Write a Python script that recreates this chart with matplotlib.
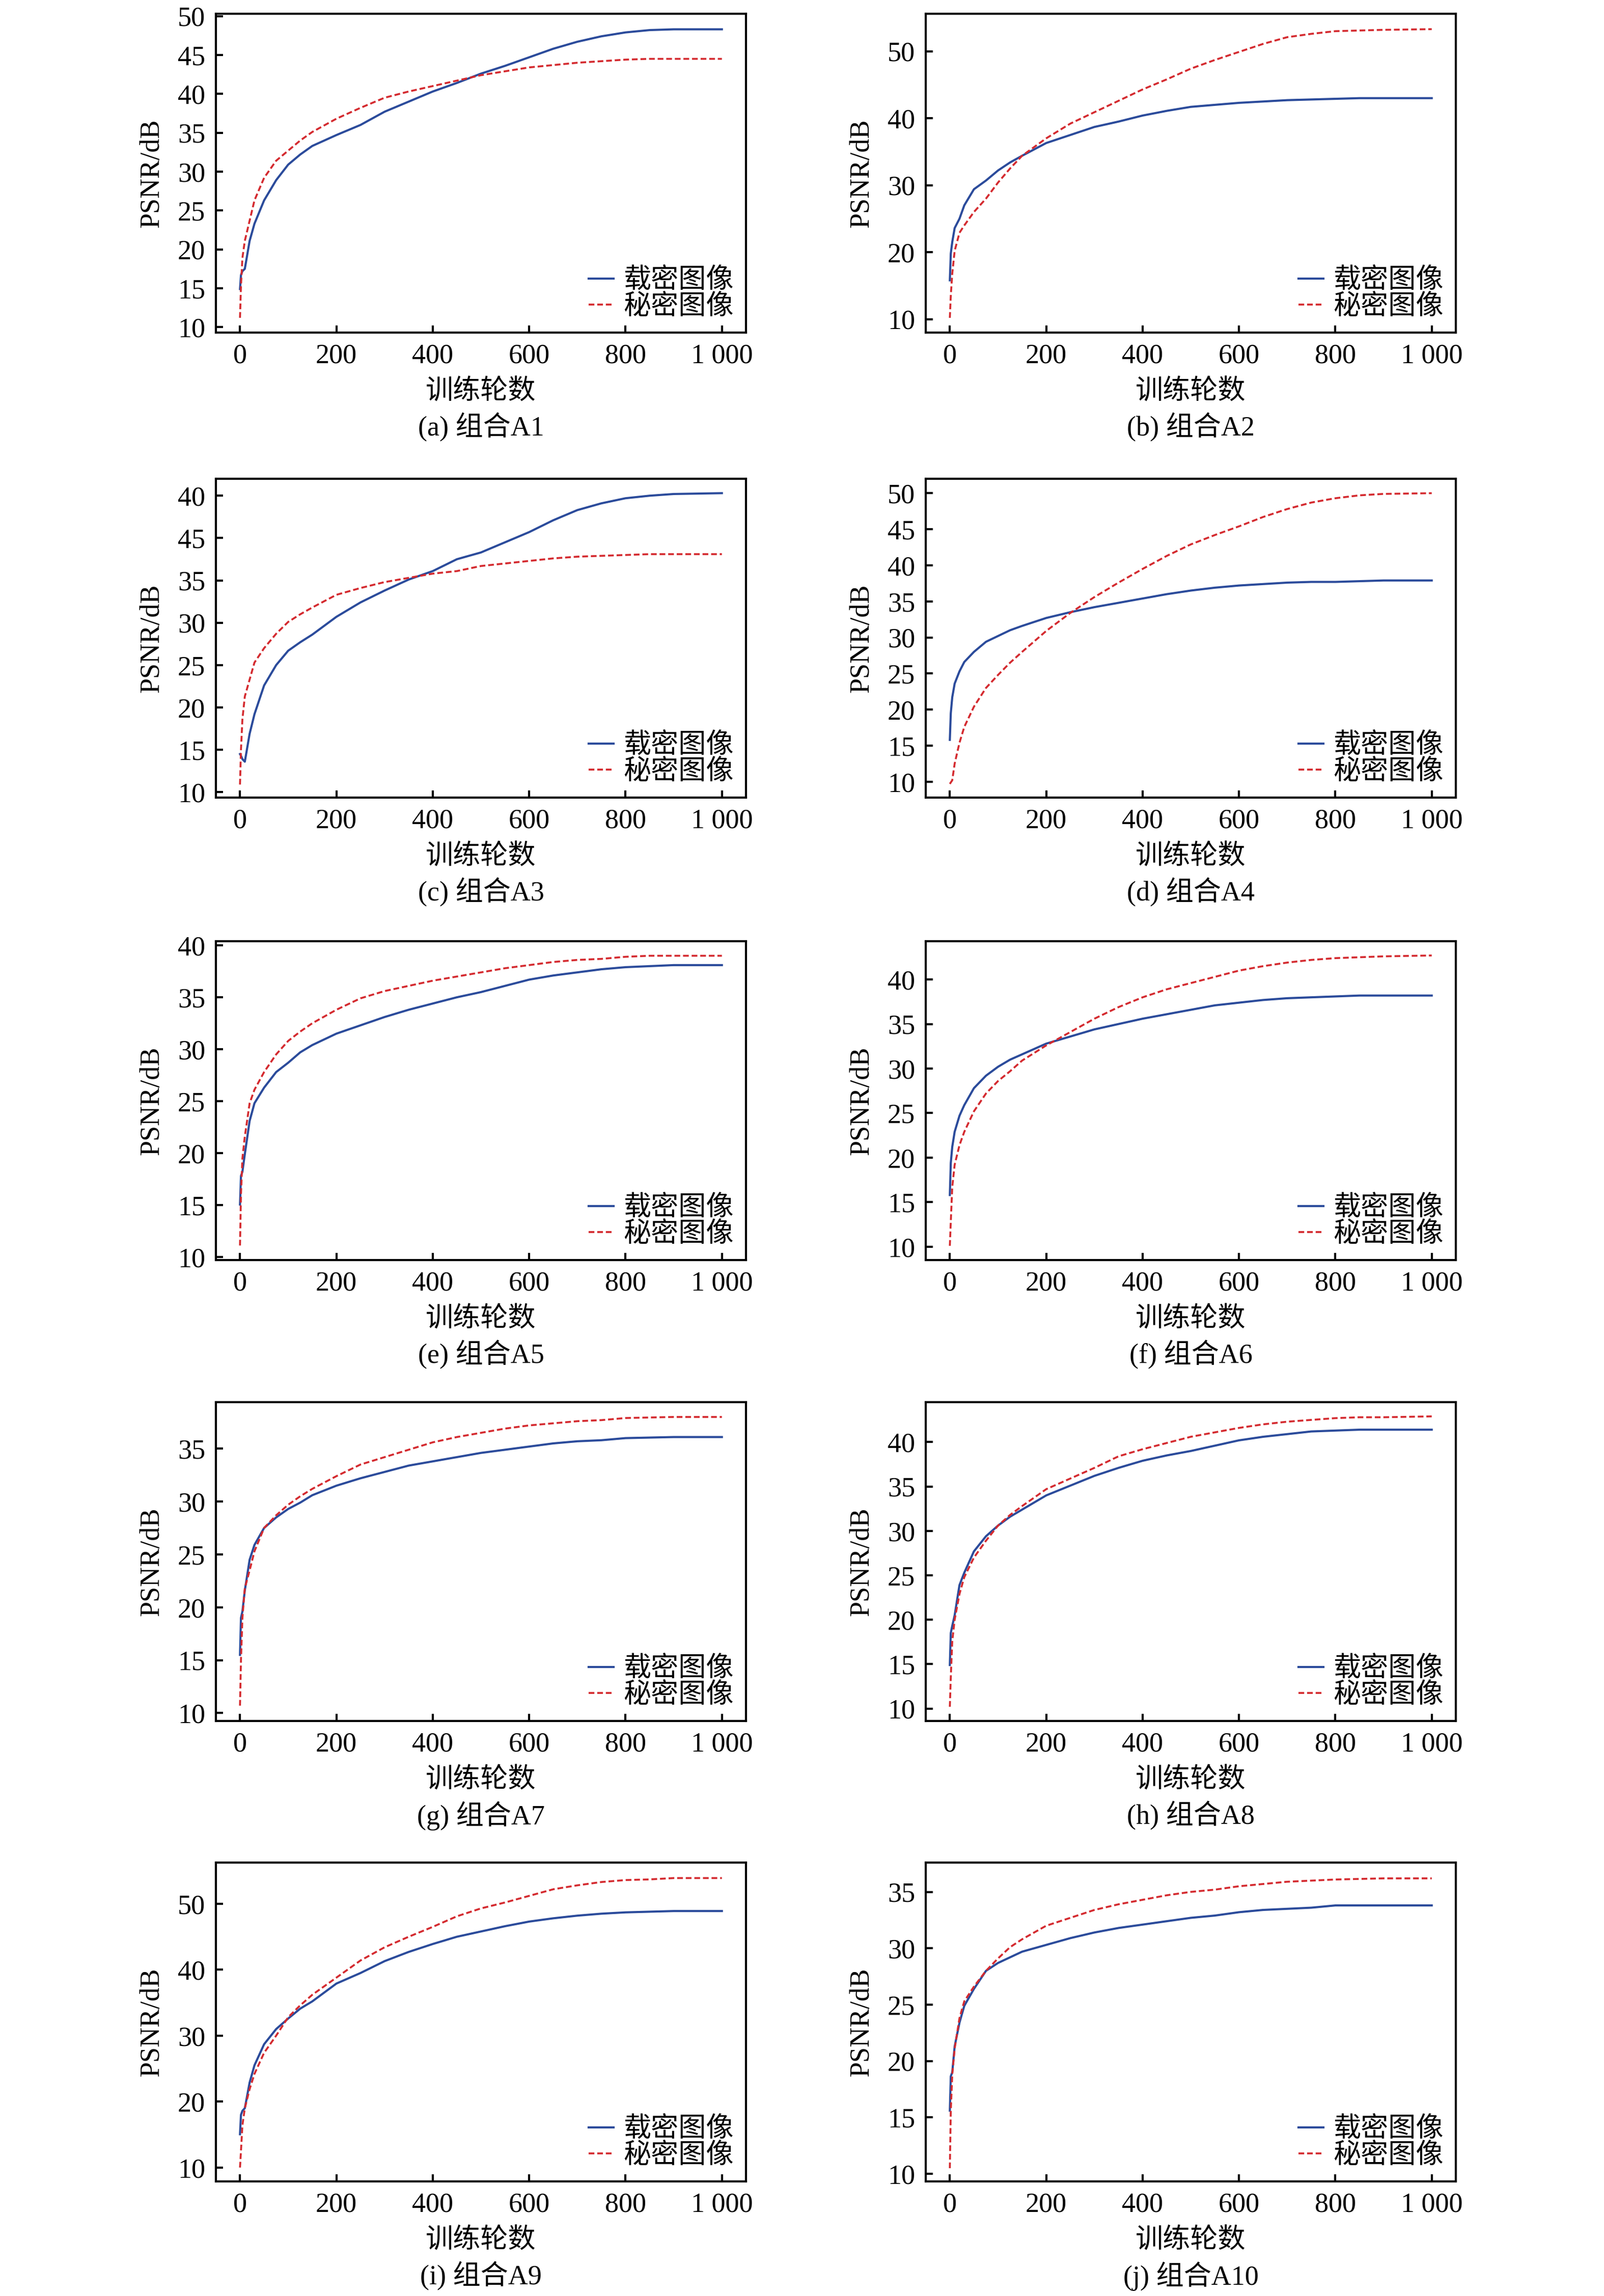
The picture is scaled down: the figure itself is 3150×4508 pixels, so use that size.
import numpy as np
import matplotlib
matplotlib.use('Agg')
import matplotlib.pyplot as plt

plt.rcParams['font.family'] = ['Liberation Serif', 'Noto Sans CJK SC']
plt.rcParams['font.size'] = 13
plt.rcParams['axes.linewidth'] = 1.0

epochs = [0, 2, 5, 10, 20, 30, 50, 75, 100, 125, 150, 200, 250, 300, 350, 400,
          450, 500, 550, 600, 650, 700, 750, 800, 850, 900, 1000]

# PSNR of the cover (stego) image and the secret image for A1..A10
cover_a = [14.9, 16.7, 17.2, 17.5, 21.1, 23.3, 26.3, 28.9, 30.9, 32.2, 33.3, 34.7, 36.0, 37.7,
           39.0, 40.3, 41.4, 42.6, 43.6, 44.7, 45.8, 46.7, 47.4, 47.9, 48.2, 48.3, 48.3]
secret_a = [11.2, 15.3, 18.9, 21.1, 23.7, 26.3, 29.2, 31.4, 32.7, 34.0, 35.1, 36.8, 38.2, 39.5,
            40.3, 41.0, 41.7, 42.4, 42.9, 43.4, 43.7, 44.0, 44.2, 44.4, 44.5, 44.5, 44.5]
cover_b = [15.8, 19.8, 21.5, 23.6, 25.0, 27.0, 29.4, 30.7, 32.2, 33.4, 34.4, 36.3, 37.5, 38.7,
           39.5, 40.4, 41.1, 41.7, 42.0, 42.3, 42.5, 42.7, 42.8, 42.9, 43.0, 43.0, 43.0]
secret_b = [10.2, 13.5, 16.8, 20.2, 22.9, 24.0, 26.0, 28.0, 30.4, 32.5, 34.4, 37.0, 39.2, 40.9,
            42.6, 44.3, 45.8, 47.4, 48.7, 49.9, 51.1, 52.1, 52.6, 53.0, 53.1, 53.2, 53.3]
cover_c = [14.5, 14.3, 13.9, 13.6, 16.9, 19.2, 22.6, 25.0, 26.7, 27.7, 28.6, 30.7, 32.4, 33.8,
           35.1, 36.1, 37.5, 38.3, 39.5, 40.7, 42.1, 43.3, 44.1, 44.7, 45.0, 45.2, 45.3]
secret_c = [10.9, 15.0, 18.6, 21.3, 23.3, 25.3, 27.0, 28.7, 30.1, 31.0, 31.8, 33.3, 34.1, 34.8,
            35.3, 35.8, 36.1, 36.7, 37.0, 37.3, 37.6, 37.8, 37.9, 38.0, 38.1, 38.1, 38.1]
cover_d = [15.8, 19.5, 21.7, 23.6, 25.3, 26.6, 28.0, 29.4, 30.2, 31.0, 31.6, 32.7, 33.5, 34.2,
           34.8, 35.4, 36.0, 36.5, 36.9, 37.2, 37.4, 37.6, 37.7, 37.7, 37.8, 37.9, 37.9]
secret_d = [9.7, 9.9, 10.2, 12.5, 15.4, 17.6, 20.4, 23.0, 24.8, 26.5, 28.0, 30.9, 33.4, 35.6,
            37.6, 39.5, 41.3, 42.9, 44.2, 45.4, 46.7, 47.8, 48.7, 49.3, 49.7, 49.9, 50.0]
cover_e = [15.05, 17.8, 18.2, 19.9, 23.1, 24.8, 26.3, 27.8, 28.7, 29.7, 30.4, 31.5, 32.3, 33.1,
           33.8, 34.4, 35.0, 35.5, 36.1, 36.7, 37.1, 37.4, 37.7, 37.9, 38.0, 38.1, 38.1]
secret_e = [11.1, 16.0, 19.5, 21.6, 24.8, 26.1, 27.8, 29.5, 30.8, 31.7, 32.5, 33.8, 34.9, 35.6,
            36.1, 36.6, 37.0, 37.4, 37.8, 38.1, 38.4, 38.6, 38.7, 38.9, 39.0, 39.0, 39.0]
cover_f = [15.8, 19.4, 21.2, 22.9, 24.7, 25.9, 27.8, 29.2, 30.2, 31.0, 31.6, 32.8, 33.6, 34.4,
           35.0, 35.6, 36.1, 36.6, 37.1, 37.4, 37.7, 37.9, 38.0, 38.1, 38.2, 38.2, 38.2]
secret_f = [10.1, 12.8, 16.7, 19.2, 21.4, 22.9, 25.2, 27.2, 28.6, 29.7, 30.9, 32.6, 34.1, 35.6,
            36.9, 38.0, 38.9, 39.6, 40.3, 41.0, 41.5, 41.9, 42.2, 42.4, 42.5, 42.6, 42.7]
cover_g = [15.5, 19.0, 19.6, 21.6, 24.5, 25.9, 27.5, 28.5, 29.3, 29.9, 30.6, 31.5, 32.2, 32.8,
           33.4, 33.8, 34.2, 34.6, 34.9, 35.2, 35.5, 35.7, 35.8, 36.0, 36.05, 36.1, 36.1]
secret_g = [10.7, 15.0, 19.0, 21.8, 23.5, 25.3, 27.5, 28.7, 29.7, 30.5, 31.2, 32.4, 33.5, 34.2,
            34.9, 35.6, 36.1, 36.5, 36.9, 37.2, 37.4, 37.6, 37.7, 37.9, 37.95, 38.0, 38.0]
cover_h = [14.9, 18.5, 19.3, 20.5, 23.9, 25.3, 27.7, 29.4, 30.6, 31.6, 32.4, 34.0, 35.1, 36.2,
           37.1, 37.9, 38.5, 39.0, 39.6, 40.2, 40.6, 40.9, 41.2, 41.3, 41.4, 41.4, 41.4]
secret_h = [10.2, 13.5, 17.6, 20.0, 22.9, 24.8, 27.0, 28.9, 30.6, 31.8, 32.8, 34.7, 35.9, 37.1,
            38.4, 39.2, 39.9, 40.6, 41.1, 41.6, 42.0, 42.3, 42.5, 42.7, 42.8, 42.8, 42.9]
cover_i = [15.05, 18.0, 18.6, 19.0, 22.9, 25.5, 28.7, 31.0, 32.6, 34.1, 35.2, 37.9, 39.5, 41.3,
           42.7, 43.9, 45.0, 45.8, 46.6, 47.3, 47.8, 48.2, 48.5, 48.7, 48.8, 48.9, 48.9]
secret_i = [10.0, 12.5, 16.4, 19.0, 21.9, 24.2, 27.4, 30.0, 32.8, 34.6, 36.2, 38.8, 41.4, 43.4,
            45.0, 46.5, 48.1, 49.3, 50.2, 51.2, 52.2, 52.8, 53.3, 53.6, 53.7, 53.9, 53.9]
cover_j = [15.6, 18.65, 19.0, 21.3, 23.4, 24.9, 26.4, 28.0, 28.7, 29.2, 29.7, 30.3, 30.9, 31.4,
           31.8, 32.1, 32.4, 32.7, 32.9, 33.2, 33.4, 33.5, 33.6, 33.8, 33.8, 33.8, 33.8]
secret_j = [10.5, 15.6, 18.8, 21.1, 23.8, 25.3, 26.6, 28.0, 29.1, 30.1, 30.8, 32.0, 32.7, 33.4,
            33.9, 34.3, 34.7, 35.0, 35.2, 35.5, 35.7, 35.9, 36.0, 36.1, 36.15, 36.2, 36.2]

captions = ['(a) 组合A1', '(b) 组合A2', '(c) 组合A3', '(d) 组合A4', '(e) 组合A5',
            '(f) 组合A6', '(g) 组合A7', '(h) 组合A8', '(i) 组合A9', '(j) 组合A10']
ylims = [(9.3, 50.3), (8.0, 55.6), (9.36, 47.0), (7.8, 52.0), (9.7, 40.4),
         (8.5, 44.3), (9.25, 39.4), (8.6, 44.5), (7.9, 56.25), (9.33, 37.6)]
yticks = [range(10, 51, 5), range(10, 51, 10), range(10, 46, 5), range(10, 51, 5),
          range(10, 41, 5), range(10, 41, 5), range(10, 36, 5), range(10, 41, 5),
          range(10, 51, 10), range(10, 36, 5)]
# panel (c) carries swapped labels at the top in the original
c_labels = ['10', '15', '20', '25', '30', '35', '45', '40']
xticks = [0, 200, 400, 600, 800, 1000]
xlabels = ['0', '200', '400', '600', '800', '1 000']

covers = [cover_a, cover_b, cover_c, cover_d, cover_e, cover_f, cover_g, cover_h, cover_i, cover_j]
secrets = [secret_a, secret_b, secret_c, secret_d, secret_e, secret_f, secret_g, secret_h,
           secret_i, secret_j]

blue = '#2b4b9b'
red = '#d42a2f'

W, H = 3150, 4508
fig = plt.figure(figsize=(W / 300, H / 300), dpi=300)

lefts = [424, 1818]
tops = [27, 940, 1848, 2753, 3657]
aw, ah = 1041, 626

for i in range(10):
    L = lefts[i % 2]
    T = tops[i // 2]
    ax = fig.add_axes([L / W, 1 - (T + ah) / H, aw / W, ah / H])
    ax.plot(epochs, covers[i], '-', color=blue, lw=1.0, label='载密图像')
    ax.plot(epochs, secrets[i], '--', color=red, lw=0.9, dashes=(3, 1.5), label='秘密图像')
    ax.set_xlim(-50, 1050)
    ax.set_ylim(*ylims[i])
    ax.set_xticks(xticks)
    ax.set_xticklabels(xlabels)
    ax.set_yticks(list(yticks[i]))
    if i == 2:
        ax.set_yticklabels(c_labels)
    ax.tick_params(direction='in', length=3.4, width=1.0, pad=5, labelsize=13,
                   top=False, right=False)
    ax.text(-126 / aw, 0.5, 'PSNR/dB', transform=ax.transAxes, rotation=90,
            ha='center', va='center', fontsize=13)
    ax.text(0.5, -117 / ah, '训练轮数', transform=ax.transAxes,
            ha='center', va='center', fontsize=13)
    ax.text(0.5, -186 / ah, captions[i], transform=ax.transAxes,
            ha='center', va='center', fontsize=13)
    ax.legend(loc='lower right', frameon=False, handlelength=0.9, handletextpad=0.35,
              labelspacing=0.0, borderpad=0.0, borderaxespad=0.45, fontsize=13)

fig.savefig('out.png', dpi=300)
